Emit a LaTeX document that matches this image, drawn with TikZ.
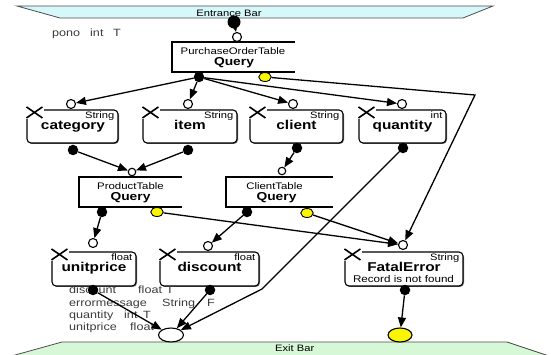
\documentclass[tikz,border=0pt]{standalone}
\usepackage{fontspec}
\setmainfont{Liberation Sans}[FakeStretch=1.2]
\usetikzlibrary{arrows.meta,shapes.geometric,shadows,calc}
\definecolor{entrancefill}{RGB}{214,248,250}
\definecolor{exitfill}{RGB}{214,248,214}
\definecolor{notegray}{RGB}{60,60,60}
\definecolor{porterr}{RGB}{250,245,0}
\begin{document}
\begin{tikzpicture}[x=1pt,y=-1pt,
  fsz/.style={font=\fontsize{#1}{#1}\selectfont},
  bar/.style={draw=black!70, line width=0.8pt},
  vbox/.style={draw, line width=1.1pt, rounded corners=4pt, fill=white, inner sep=0pt,
    drop shadow={shadow xshift=1pt, shadow yshift=-1pt, fill=black!55, opacity=1}},
  qbox/.style={inner sep=0pt, minimum height=30pt},
  qline/.style={line width=2.2pt},
  typelbl/.style={fsz=9.3, inner sep=0pt, anchor=base east},
  namelbl/.style={font=\fontsize{12.8}{12.8}\selectfont\bfseries, inner sep=0pt, anchor=base},
  tbllbl/.style={fsz=9.5, inner sep=0pt, anchor=base},
  qlbl/.style={font=\fontsize{11.5}{11.5}\selectfont\bfseries, inner sep=0pt, anchor=base},
  notelbl/.style={fsz=10.5, text=notegray, inner sep=0pt, anchor=base west},
  inport/.style={circle, draw, line width=1.1pt, fill=white, minimum size=9pt, inner sep=0pt},
  outport/.style={circle, fill=black, minimum size=10.5pt, inner sep=0pt},
  errport/.style={ellipse, draw, line width=0.9pt, fill=porterr, minimum width=12.5pt, minimum height=9pt, inner sep=0pt},
  flow/.style={line width=1.3pt, -{Triangle[length=10pt,width=8pt]}},
  cornerx/.pic={
    \fill[white] (-1.5,-1.5) rectangle (18,10);
    \draw[line width=1.6pt] (0,-2.5) -- (16,8.5) (0,8.5) -- (16,-2.5);
  }
]
\useasboundingbox (0,0) rectangle (554,355);

% entrance and exit bars
\filldraw[bar, fill=entrancefill] (17,6) -- (493,6) -- (463,18) -- (60,18) -- cycle;
\node[fsz=9.3, inner sep=0pt, anchor=base] (entrance-lbl) at (229,16.5) {Entrance Bar};
\filldraw[bar, fill=exitfill] (62,342) -- (507,342) -- (552,357) -- (8,357) -- cycle;
\node[fsz=9.3, inner sep=0pt, anchor=base west] (exit-lbl) at (275,351) {Exit Bar};

% input parameter
\node[notelbl] (pono-name) at (52,37) {pono};
\node[notelbl] (pono-type) at (90,37) {int};
\node[notelbl] (pono-flag) at (113,37) {T};

% query boxes
\node[qbox, minimum width=123pt] (po) at (233.5,57) {};
\draw[qline] (po.north east) -- (po.north west) -- (po.south west) -- (po.south east);
\node[tbllbl] (po-tbl) at ($(po.north)+(-0.5,13)$) {PurchaseOrderTable};
\node[qlbl] (po-q) at ($(po.north)+(0.5,23.5)$) {Query};

\node[qbox, minimum width=103pt] (pt) at (130.5,192) {};
\draw[qline] (pt.north east) -- (pt.north west) -- (pt.south west) -- (pt.south east);
\node[tbllbl] (pt-tbl) at ($(pt.north)+(0,13)$) {ProductTable};
\node[qlbl] (pt-q) at ($(pt.north)+(0,23.5)$) {Query};

\node[qbox, minimum width=107pt] (ct) at (279.5,192) {};
\draw[qline] (ct.north east) -- (ct.north west) -- (ct.south west) -- (ct.south east);
\node[tbllbl] (ct-tbl) at ($(ct.north)+(-5,13)$) {ClientTable};
\node[qlbl] (ct-q) at ($(ct.north)+(-3,23.5)$) {Query};

% variable boxes
\node[vbox, minimum width=91pt, minimum height=33pt] (cat) at (72.5,126.5) {};
\node[vbox, minimum width=94pt, minimum height=33pt] (item) at (190,126.5) {};
\node[vbox, minimum width=93pt, minimum height=33pt] (cli) at (296.5,126.5) {};
\node[vbox, minimum width=87pt, minimum height=33pt] (qty) at (402.5,126.5) {};
\node[vbox, minimum width=84pt, minimum height=34pt] (up) at (94,269) {};
\node[vbox, minimum width=99pt, minimum height=34pt] (dc) at (209.5,269) {};
\node[vbox, minimum width=118pt, minimum height=34pt] (fe) at (404,269) {};

\foreach \b in {cat,item,cli,qty,up,dc,fe} {
  \pic at (\b.north west) {cornerx};
}

\node[typelbl] (cat-type) at ($(cat.north east)+(-4,9)$) {String};
\node[namelbl] (cat-name) at ($(cat.north)+(0.5,20.5)$) {category};
\node[typelbl] (item-type) at ($(item.north east)+(-4,9)$) {String};
\node[namelbl] (item-name) at ($(item.north)+(0,20.5)$) {item};
\node[typelbl] (cli-type) at ($(cli.north east)+(-4,9)$) {String};
\node[namelbl] (cli-name) at ($(cli.north)+(0,20.5)$) {client};
\node[typelbl] (qty-type) at ($(qty.north east)+(-4,9)$) {int};
\node[namelbl] (qty-name) at ($(qty.north)+(0,20.5)$) {quantity};
\node[typelbl] (up-type) at ($(up.north east)+(-4,9)$) {float};
\node[namelbl] (up-name) at ($(up.north)+(0,20.5)$) {unitprice};
\node[typelbl] (dc-type) at ($(dc.north east)+(-4,9)$) {float};
\node[namelbl] (dc-name) at ($(dc.north)+(0,20.5)$) {discount};
\node[typelbl] (fe-type) at ($(fe.north east)+(-4,9)$) {String};
\node[namelbl] (fe-name) at ($(fe.north)+(0,20.5)$) {FatalError};
\node[fsz=9.7, inner sep=0pt, anchor=base] (fe-msg) at ($(fe.north)+(-0.5,31)$) {Record is not found};

% output parameters
\node[notelbl] (o1a) at (69,294) {discount};
\node[notelbl] (o1b) at (138,294) {float};
\node[notelbl] (o1c) at (166,294) {T};
\node[notelbl] (o2a) at (69,306) {errormessage};
\node[notelbl] (o2b) at (162,306) {String};
\node[notelbl] (o2c) at (207,306) {F};
\node[notelbl] (o3a) at (69,318) {quantity};
\node[notelbl] (o3b) at (124,318) {int};
\node[notelbl] (o3c) at (143,318) {T};
\node[notelbl] (o4a) at (69,330) {unitprice};
\node[notelbl] (o4b) at (130,330) {float};

% ports
\node[outport, minimum size=13pt] (ent) at (234,22) {};
\node[inport] (po-in) at (237,37) {};
\node[outport] (po-out) at (199,77) {};
\node[errport] (po-err) at (265,77) {};
\node[inport] (cat-in) at (71,104) {};
\node[outport] (cat-out) at (73,150) {};
\node[inport] (item-in) at (188,104) {};
\node[outport] (item-out) at (188,150) {};
\node[inport] (cli-in) at (293,104) {};
\node[outport] (cli-out) at (297,148) {};
\node[inport] (qty-in) at (402,104) {};
\node[outport] (qty-out) at (403,148) {};
\node[inport, minimum size=7.5pt] (pt-in) at (132,172) {};
\node[outport] (pt-out) at (102,212) {};
\node[errport] (pt-err) at (157,212) {};
\node[inport, minimum size=7.5pt] (ct-in) at (282,171) {};
\node[outport] (ct-out) at (247,212) {};
\node[errport] (ct-err) at (307,213) {};
\node[inport] (up-in) at (93,243) {};
\node[outport] (up-out) at (93,290) {};
\node[inport] (dc-in) at (208,246) {};
\node[outport] (dc-out) at (210,290) {};
\node[inport] (fe-in) at (403,245) {};
\node[outport] (fe-out) at (405,290) {};
\node[ellipse, draw, line width=1.1pt, fill=white, minimum width=25pt, minimum height=14pt, inner sep=0pt] (exit-ok) at (171,335) {};
\node[ellipse, draw, line width=1.1pt, fill=porterr, minimum width=24pt, minimum height=14pt, inner sep=0pt] (exit-err) at (400,335) {};

\coordinate (bendA) at (475,95);
\coordinate (bendB) at (262,289);

% data flow
\draw[flow] (ent) -- (po-in);
\draw[flow] (po-out) -- (cat-in);
\draw[flow] (po-out) -- (item-in);
\draw[flow] (po-out) -- (cli-in);
\draw[flow] (po-out) -- (qty-in);
\draw[flow] (po-err) -- (bendA) -- (fe-in);
\draw[flow] (cat-out) -- (pt-in);
\draw[flow] (item-out) -- (pt-in);
\draw[flow] (cli-out) -- (ct-in);
\draw[flow] (qty-out) -- (bendB) -- (exit-ok);
\draw[flow] (pt-out) -- (up-in);
\draw[flow] (pt-err) -- (fe-in);
\draw[flow] (ct-out) -- (dc-in);
\draw[flow] (ct-err) -- (fe-in);
\draw[flow] (fe-out) -- (exit-err);
\draw[flow] (up-out) -- (exit-ok);
\draw[flow] (dc-out) -- (exit-ok);
\end{tikzpicture}
\end{document}
